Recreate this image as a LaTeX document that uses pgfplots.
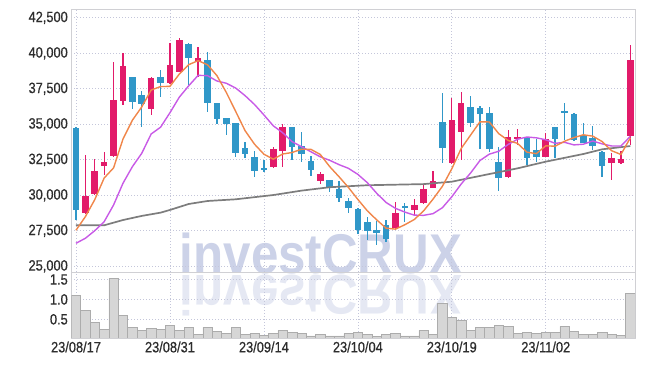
\documentclass[border=0pt]{standalone}
\usepackage{fontspec}
\setmainfont{Liberation Sans}[FakeStretch=0.86,FakeBold=0.6]
\newfontfamily\wmfont{Liberation Sans}
\usepackage{pgfplots}
\pgfplotsset{compat=1.18}
\usepackage{pgfplotstable}

\definecolor{upc}{RGB}{226,27,106}
\definecolor{dnc}{RGB}{48,151,200}
\definecolor{maA}{RGB}{240,134,74}
\definecolor{maB}{RGB}{200,90,230}
\definecolor{maC}{RGB}{125,125,125}
\definecolor{gridc}{RGB}{196,198,218}
\definecolor{framec}{RGB}{208,208,212}
\definecolor{tickc}{RGB}{45,45,45}
\definecolor{wmc}{RGB}{204,210,232}
\definecolor{volf}{RGB}{214,214,214}
\definecolor{vole}{RGB}{172,172,172}

\pgfplotstableread{
i O H L C V
0 34760 34800 28250 28960 1.107
1 28770 32830 28700 29970 0.73
2 30080 32530 30050 31700 0.42
3 32060 33020 31420 32320 0.245
4 32760 39370 32700 36710 1.525
5 36660 40000 36360 39110 0.605
6 38330 38350 36050 36590 0.295
7 37060 37350 34780 36400 0.22
8 36100 38300 35650 38260 0.27
9 38330 38820 36950 37930 0.245
10 37880 40750 37850 39180 0.345
11 38710 41060 38700 40940 0.22
12 40660 40700 37770 39700 0.295
13 39410 40470 38310 39670 0.12
14 39530 40120 35890 36480 0.295
15 36480 36500 35020 35350 0.195
16 35420 35450 34220 35020 0.145
17 35090 35100 32670 33000 0.295
18 33330 33770 32600 32900 0.12
19 32690 33140 31300 31730 0.145
20 31940 32480 31660 31830 0.10
21 31960 33420 31890 33260 0.145
22 33140 35000 31960 34830 0.22
23 34780 34800 32480 33420 0.17
24 33470 34430 32320 32900 0.145
25 32410 32760 31380 31780 0.085
26 31020 31660 30790 31470 0.12
27 31050 31070 30250 30550 0.085
28 30410 31020 29540 29830 0.085
29 29590 29830 28770 29120 0.145
30 29070 29100 27300 27590 0.17
31 28090 28440 26840 27480 0.12
32 27550 28200 26490 27360 0.07
33 27900 28260 26700 26890 0.12
34 27730 29500 27660 28770 0.145
35 29240 29470 28130 29140 0.085
36 29000 29710 28530 29310 0.085
37 29470 30720 29400 30410 0.22
38 30550 31730 30500 31020 0.12
39 35180 37180 32290 33300 0.897
40 32290 36830 32200 35300 0.546
41 34480 37300 32480 36480 0.479
42 36190 37020 34830 35110 0.22
43 36120 36290 33230 35700 0.295
44 35770 36240 33070 33230 0.295
45 32320 33370 30300 31190 0.345
46 31260 34600 31200 34080 0.32
47 33960 34670 33540 34080 0.145
48 34080 34100 32130 32600 0.17
49 33190 33940 32360 32720 0.145
50 32720 34410 32700 33940 0.17
51 34780 34800 32600 33960 0.17
52 35940 36480 33890 35820 0.32
53 35720 35770 33850 33890 0.195
54 34240 35110 33650 33700 0.12
55 34010 34880 33190 33470 0.12
56 33070 33100 31310 32060 0.17
57 32290 33000 31070 32600 0.12
58 32250 33140 32200 32550 0.095
59 34170 40590 33540 39530 1.148
}\data

\pgfplotstableread{
i m5 m10
0 27540 26624
1 28500 26976
2 29700 27511
3 31220 28145
4 31932 29320
5 33962 30847
6 35286 32017
7 36226 32960
8 37414 34319
9 37658 34795
10 37672 35817
11 38542 36914
12 39202 37714
13 39484 38449
14 39194 38426
15 38428 38050
16 37244 37893
17 35904 37553
18 34550 37017
19 33600 36397
20 32896 35662
21 32544 34894
22 32910 34407
23 33014 33782
24 33248 33424
25 33238 33067
26 32880 32712
27 32024 32467
28 31306 32160
29 30550 31899
30 29712 31475
31 28914 30897
32 28276 30150
33 27688 29497
34 27618 29084
35 27928 28820
36 28294 28604
37 28904 28590
38 29730 28709
39 30636 29127
40 31868 29898
41 33302 30798
42 34242 31573
43 35178 32454
44 35164 32900
45 34342 33105
46 33862 33582
47 33656 33949
48 33036 34107
49 32934 34049
50 33484 33913
51 33460 33661
52 33808 33732
53 34066 33551
54 34262 33598
55 34168 33826
56 33788 33624
57 33144 33476
58 32876 33471
59 34042 34152
}\ma

\pgfplotstableread{
i m
0 27890
3 27890
5 28260
7 28550
9 28780
10 28970
12 29390
14 29600
17 29720
21 30020
24 30330
27 30570
31 30710
37 30790
40 30960
44 31500
47 31900
50 32370
54 32910
56 33240
59 33470
}\malong

\pgfplotsset{cstyle/.style={scale only axis, width=563.7pt, xmin=-0.5, xmax=59.5,
  axis line style={draw=framec, line width=0.8pt},
  grid=major, major grid style={draw=gridc, dash pattern=on 1pt off 2pt, line width=0.7pt},
  major tick length=0pt, xtick={0,10,20,30,40,50},
  tick label style={font=\fontsize{14.9}{16}\selectfont, text=tickc},
  scaled ticks=false}}

\begin{document}
\begin{tikzpicture}
\useasboundingbox (0pt,0pt) rectangle (645pt,-366pt);
\node[anchor=base, inner sep=0pt, text=wmc, xscale=0.88, font=\wmfont\bfseries\fontsize{56}{56}\selectfont] at (321pt,-273pt) {investCRUX};
\node[anchor=base, inner sep=0pt, text=wmc, opacity=0.5, xscale=0.88, yscale=-1, font=\wmfont\bfseries\fontsize{56}{56}\selectfont] at (321pt,-275pt) {investCRUX};

\begin{axis}[cstyle, at={(71.3pt,-9.3pt)}, anchor=north west, height=262.7pt,
  ymin=24600, ymax=43100,
  ytick={25000,27500,30000,32500,35000,37500,40000,42500},
  xticklabels={},
  yticklabel style={/pgf/number format/.cd, fixed, 1000 sep={,}, assume math mode=true}]
% wicks
\addplot[draw=none, no markers, forget plot, error bars/.cd, y dir=both, y explicit, error mark=none,
  error bar style={draw=upc, line width=1.3pt}]
  table[x=i, y expr={\thisrow{C}>=\thisrow{O} ? (\thisrow{H}+\thisrow{L})/2 : nan}, y error expr={(\thisrow{H}-\thisrow{L})/2}] {\data};
\addplot[draw=none, no markers, forget plot, error bars/.cd, y dir=both, y explicit, error mark=none,
  error bar style={draw=dnc, line width=1.3pt}]
  table[x=i, y expr={\thisrow{C}<\thisrow{O} ? (\thisrow{H}+\thisrow{L})/2 : nan}, y error expr={(\thisrow{H}-\thisrow{L})/2}] {\data};
% bodies
\addplot[draw=none, no markers, forget plot, error bars/.cd, y dir=both, y explicit, error mark=none,
  error bar style={draw=upc, line width=6.6pt}]
  table[x=i, y expr={\thisrow{C}>=\thisrow{O} ? (\thisrow{O}+\thisrow{C})/2 : nan}, y error expr={abs(\thisrow{C}-\thisrow{O})/2}] {\data};
\addplot[draw=none, no markers, forget plot, error bars/.cd, y dir=both, y explicit, error mark=none,
  error bar style={draw=dnc, line width=6.6pt}]
  table[x=i, y expr={\thisrow{C}<\thisrow{O} ? (\thisrow{O}+\thisrow{C})/2 : nan}, y error expr={abs(\thisrow{C}-\thisrow{O})/2}] {\data};
% moving averages
\addplot[maC, line width=1.7pt, no markers] table[x=i, y=m] {\malong};
\addplot[maB, line width=1.4pt, no markers] table[x=i, y=m10] {\ma};
\addplot[maA, line width=1.4pt, no markers] table[x=i, y=m5] {\ma};
\end{axis}

\begin{axis}[cstyle, at={(71.3pt,-272pt)}, anchor=north west, height=66pt,
  ymin=0.03, ymax=1.69, ytick={0.5,1,1.5},
  xticklabels={23/08/17,23/08/31,23/09/14,23/10/04,23/10/19,23/11/02},
  yticklabel style={/pgf/number format/.cd, fixed, fixed zerofill, precision=1, assume math mode=true}]
\addplot[ybar, bar width=9.41pt, fill=volf, draw=vole, line width=0.5pt] table[x=i, y=V] {\data};
\node[rotate=90, font=\fontsize{13}{13}\selectfont, text=tickc] at (rel axis cs:-0.073,0.55) {$10^6$};
\end{axis}
\end{tikzpicture}
\end{document}
